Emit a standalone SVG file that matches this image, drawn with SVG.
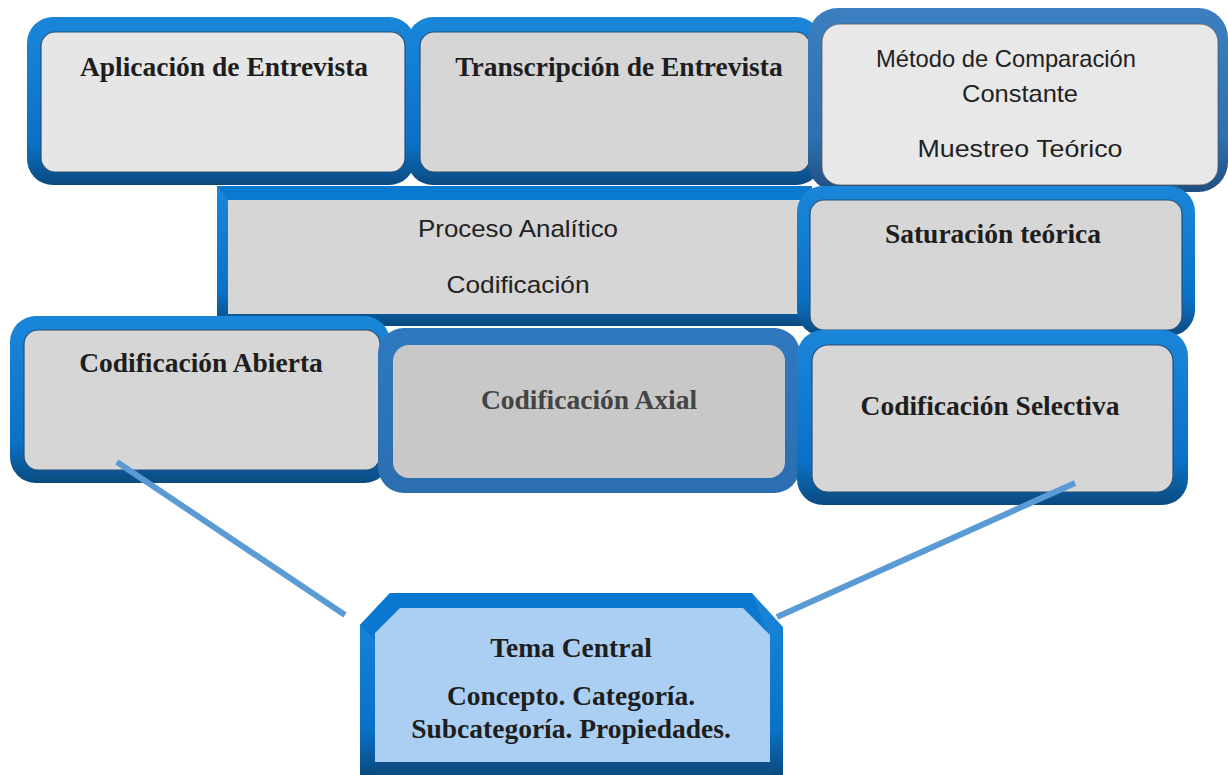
<svg xmlns="http://www.w3.org/2000/svg" width="1228" height="775" viewBox="0 0 1228 775">
<defs>
<linearGradient id="rim" x1="0" y1="0" x2="0" y2="1">
<stop offset="0" stop-color="#1a86da"/>
<stop offset="0.75" stop-color="#0a72c6"/>
<stop offset="1" stop-color="#0b4a80"/>
</linearGradient>
<linearGradient id="rim2" x1="0" y1="0" x2="0" y2="1">
<stop offset="0" stop-color="#3b7fc0"/>
<stop offset="0.7" stop-color="#2e70b0"/>
<stop offset="1" stop-color="#1f4f80"/>
</linearGradient>
<linearGradient id="rim3" x1="0" y1="0" x2="0" y2="1">
<stop offset="0" stop-color="#2f78c0"/>
<stop offset="1" stop-color="#2c6fb0"/>
</linearGradient>
</defs>
<style>
.ser{font-family:"Liberation Serif","Times New Roman",serif;font-weight:bold;font-size:27.5px;fill:#1e1e1e;text-anchor:middle}
.san{font-family:"Liberation Sans",Arial,sans-serif;font-size:24px;fill:#222222;text-anchor:middle}
.inner{stroke:#2a4f75;stroke-width:1.2}
.conn{stroke:#5b9bd5;stroke-width:6;fill:none}
</style>
<rect width="1228" height="775" fill="#ffffff"/>

<g id="n-aplicacion">
<rect x="27" y="17" width="388" height="168" rx="26" fill="url(#rim)"/>
<rect x="41" y="32" width="364" height="140" rx="14" fill="#e6e6e6" class="inner"/>
<text x="224" y="76" class="ser">Aplicación de Entrevista</text>
</g>

<g id="n-transcripcion">
<rect x="407" y="17" width="415" height="168" rx="26" fill="url(#rim)"/>
<rect x="420" y="32" width="390" height="140" rx="14" fill="#d6d6d6" class="inner"/>
<text x="619" y="76" class="ser">Transcripción de Entrevista</text>
</g>

<g id="n-metodo">
<rect x="808" y="8" width="420" height="184" rx="30" fill="url(#rim2)"/>
<rect x="822" y="24" width="396" height="161" rx="18" fill="#e8e8e8" stroke="#5a5a5a" stroke-width="0.8"/>
<text x="1006" y="67" class="san" textLength="260" lengthAdjust="spacingAndGlyphs">Método de Comparación</text>
<text x="1020" y="102" class="san" textLength="116" lengthAdjust="spacingAndGlyphs">Constante</text>
<text x="1020" y="157" class="san" textLength="205" lengthAdjust="spacingAndGlyphs">Muestreo Teórico</text>
</g>

<g id="n-proceso">
<rect x="217" y="186" width="595" height="140" fill="url(#rim)"/>
<polygon points="217,186 812,186 803,200 228,200" fill="#0a7ad0"/>
<rect x="228" y="200" width="575" height="114" fill="#d6d6d6"/>
<text x="518" y="237" class="san" textLength="200" lengthAdjust="spacingAndGlyphs">Proceso Analítico</text>
<text x="518" y="293" class="san" textLength="143" lengthAdjust="spacingAndGlyphs">Codificación</text>
</g>

<g id="n-saturacion">
<rect x="797" y="186" width="398" height="150" rx="26" fill="url(#rim)"/>
<rect x="810" y="200" width="372" height="130" rx="14" fill="#d6d6d6" class="inner"/>
<text x="993" y="243" class="ser">Saturación teórica</text>
</g>

<g id="n-abierta">
<rect x="10" y="316" width="380" height="167" rx="26" fill="url(#rim)"/>
<rect x="24" y="330" width="356" height="140" rx="14" fill="#d6d6d6" class="inner"/>
<text x="201" y="372" class="ser">Codificación Abierta</text>
</g>

<g id="n-axial">
<rect x="378" y="328" width="422" height="165" rx="26" fill="url(#rim3)"/>
<rect x="393" y="345" width="392" height="133" rx="16" fill="#c8c8c8"/>
<text x="589" y="409" class="ser" style="fill:#444444">Codificación Axial</text>
</g>

<g id="n-selectiva">
<rect x="797" y="330" width="391" height="175" rx="26" fill="url(#rim)"/>
<rect x="812" y="345" width="361" height="147" rx="16" fill="#d6d6d6" class="inner"/>
<text x="990" y="415" class="ser">Codificación Selectiva</text>
</g>

<g id="connectors">
<line x1="117" y1="462" x2="345" y2="615" class="conn"/>
<line x1="1075" y1="483" x2="777" y2="617" class="conn"/>
</g>

<g id="n-tema">
<polygon points="390,593 752,593 783,627 783,775 360,775 360,625" fill="url(#rim)"/>
<polygon points="390,593 752,593 770,640 375,640 360,625" fill="#0a78cf"/>
<polygon points="400,608 743,608 770,635 770,762 375,762 375,633" fill="#aacff2"/>
<rect x="375" y="762" width="395" height="13" fill="#0d4f86"/>
<text x="571" y="657" class="ser">Tema Central</text>
<text x="571" y="705" class="ser">Concepto. Categoría.</text>
<text x="571" y="738" class="ser">Subcategoría. Propiedades.</text>
</g>
</svg>
